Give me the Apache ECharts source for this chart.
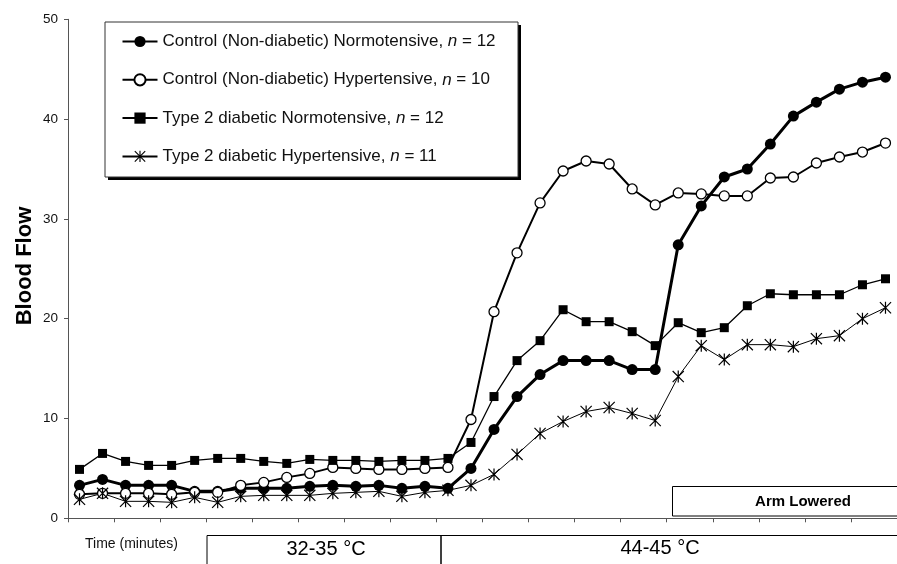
<!DOCTYPE html>
<html>
<head>
<meta charset="utf-8">
<script src="https://cdn.jsdelivr.net/npm/echarts@6/dist/echarts.min.js"></script>
<style>
html,body{margin:0;padding:0;background:#fff;}
#chart{width:897px;height:564px;}
</style>
</head>
<body>
<div id="chart"></div>
<script>
// ---- data ----
const timePoints = ['1','2','3','4','5','6','7','8','9','10','11','12','13','14','15','16','17','18',
                    '19','20','21','22','23','24','25','26','27','28','29','30','31','32','33','34','35','36'];

const seriesNames = [
  'Control (Non-diabetic) Normotensive',
  'Control (Non-diabetic) Hypertensive',
  'Type 2 diabetic Normotensive',
  'Type 2 diabetic Hypertensive'
];
const seriesN = [12, 10, 12, 11];

const ctrlNormo = [3.3, 3.9, 3.3, 3.3, 3.3, 2.7, 2.7, 3.0, 3.0, 3.0, 3.2, 3.3, 3.2, 3.3, 3.0, 3.2, 3.0, 5.0,
                   8.9, 12.2, 14.4, 15.8, 15.8, 15.8, 14.9, 14.9, 27.4, 31.3, 34.2, 35.0, 37.5, 40.3, 41.7, 43.0, 43.7, 44.2];
const ctrlHyper = [2.4, 2.5, 2.5, 2.5, 2.4, 2.6, 2.6, 3.3, 3.6, 4.1, 4.5, 5.1, 5.0, 4.9, 4.9, 5.0, 5.1, 9.9,
                   20.7, 26.6, 31.6, 34.8, 35.8, 35.5, 33.0, 31.4, 32.6, 32.5, 32.3, 32.3, 34.1, 34.2, 35.6, 36.2, 36.7, 37.6];
const t2Normo   = [4.9, 6.5, 5.7, 5.3, 5.3, 5.8, 6.0, 6.0, 5.7, 5.5, 5.9, 5.8, 5.8, 5.7, 5.8, 5.8, 6.0, 7.6,
                   12.2, 15.8, 17.8, 20.9, 19.7, 19.7, 18.7, 17.3, 19.6, 18.6, 19.1, 21.3, 22.5, 22.4, 22.4, 22.4, 23.4, 24.0];
const t2Hyper   = [1.9, 2.5, 1.7, 1.7, 1.6, 2.1, 1.6, 2.2, 2.3, 2.3, 2.3, 2.5, 2.6, 2.7, 2.2, 2.6, 2.8, 3.3,
                   4.4, 6.4, 8.5, 9.7, 10.7, 11.1, 10.5, 9.8, 14.2, 17.3, 15.9, 17.4, 17.4, 17.2, 18.0, 18.3, 20.0, 21.1];

const yTicks = { min: 0, max: 50, interval: 10 };
const yAxisTitle = 'Blood Flow';
const timeLabel = 'Time (minutes)';
const phaseLabels = ['32-35 °C', '44-45 °C'];
const armLabel = 'Arm Lowered';

// ---- chart ----
const FONT = "'Liberation Sans', Arial, sans-serif";
const starPath = 'path://M9,0 L11,0 L11,20 L9,20 Z M0,1.4 L1.4,0 L20,18.6 L18.6,20 Z M18.6,0 L20,1.4 L1.4,20 L0,18.6 Z';

const chart = echarts.init(document.getElementById('chart'), null, { renderer: 'canvas' });

const nameMap = {};
seriesNames.forEach((n, i) => nameMap[n] = seriesN[i]);

const option = {
  animation: false,
  backgroundColor: '#fff',
  grid: { left: 68, top: 19.3, bottom: 45.7, right: -4, containLabel: false },
  xAxis: {
    type: 'category',
    data: timePoints,
    boundaryGap: true,
    axisLine: { lineStyle: { color: '#555', width: 1 } },
    axisTick: { show: true, interval: 1, length: 4, lineStyle: { color: '#555' } },
    axisLabel: { show: false },
    splitLine: { show: false }
  },
  yAxis: {
    type: 'value',
    min: yTicks.min, max: yTicks.max, interval: yTicks.interval,
    axisLine: { show: true, lineStyle: { color: '#555', width: 1 } },
    axisTick: { show: true, length: 4, lineStyle: { color: '#555' } },
    axisLabel: { margin: 10, color: '#111', fontSize: 13.5, fontFamily: FONT },
    splitLine: { show: false }
  },
  legend: {
    orient: 'vertical',
    left: 121.5,
    top: 33,
    padding: 0,
    itemWidth: 35,
    itemHeight: 14,
    itemGap: 21.3,
    data: seriesNames,
    formatter: function (name) {
      return '{t|' + name + ', }{i|n}{t| = ' + nameMap[name] + '}';
    },
    textStyle: {
      color: '#111',
      fontFamily: FONT,
      fontSize: 17,
      lineHeight: 17,
      rich: {
        t: { fontFamily: FONT, fontSize: 17, color: '#111', lineHeight: 17 },
        i: { fontFamily: FONT, fontSize: 17, color: '#111', fontStyle: 'italic', lineHeight: 17 }
      }
    }
  },
  series: [
    {
      name: seriesNames[0], type: 'line', data: ctrlNormo,
      symbol: 'circle', symbolSize: 11,
      lineStyle: { color: '#000', width: 3 },
      itemStyle: { color: '#000' }
    },
    {
      name: seriesNames[1], type: 'line', data: ctrlHyper,
      symbol: 'circle', symbolSize: 10,
      lineStyle: { color: '#000', width: 2 },
      itemStyle: { color: '#fff', borderColor: '#000', borderWidth: 1.3 }
    },
    {
      name: seriesNames[2], type: 'line', data: t2Normo,
      symbol: 'rect', symbolSize: 9,
      lineStyle: { color: '#000', width: 1.3 },
      itemStyle: { color: '#000' }
    },
    {
      name: seriesNames[3], type: 'line', data: t2Hyper,
      symbol: starPath, symbolSize: 12, symbolKeepAspect: true,
      lineStyle: { color: '#000', width: 1 },
      itemStyle: { color: '#000' }
    }
  ],
  graphic: [
    // legend frame with hard shadow
    { type: 'rect', z: -1, shape: { x: 108, y: 25, width: 413, height: 155 }, style: { fill: '#000' } },
    { type: 'rect', z: 0, shape: { x: 105, y: 22, width: 413, height: 155 }, style: { fill: '#fff', stroke: '#333', lineWidth: 1 } },
    // y-axis title
    { type: 'text', x: 25, y: 266, rotation: Math.PI / 2,
      style: { text: yAxisTitle, font: 'bold 22px ' + FONT, fill: '#000', textAlign: 'center', textVerticalAlign: 'middle' } },
    // time label
    { type: 'text', x: 85, y: 544,
      style: { text: timeLabel, font: '14px ' + FONT, fill: '#111', textAlign: 'left', textVerticalAlign: 'middle' } },
    // phase boxes
    { type: 'rect', shape: { x: 207, y: 535.5, width: 234, height: 40 }, style: { fill: 'none', stroke: '#000', lineWidth: 1 } },
    { type: 'rect', shape: { x: 441, y: 535.5, width: 470, height: 40 }, style: { fill: 'none', stroke: '#000', lineWidth: 1 } },
    { type: 'text', x: 326, y: 549,
      style: { text: phaseLabels[0], font: '20px ' + FONT, fill: '#000', textAlign: 'center', textVerticalAlign: 'middle' } },
    { type: 'text', x: 660, y: 548,
      style: { text: phaseLabels[1], font: '20px ' + FONT, fill: '#000', textAlign: 'center', textVerticalAlign: 'middle' } },
    // arm lowered box
    { type: 'rect', shape: { x: 672.5, y: 486.5, width: 260, height: 29.5 }, style: { fill: '#fff', stroke: '#000', lineWidth: 1 } },
    { type: 'text', x: 803, y: 502,
      style: { text: armLabel, font: 'bold 15px ' + FONT, fill: '#000', textAlign: 'center', textVerticalAlign: 'middle' } }
  ]
};

chart.setOption(option);
</script>
</body>
</html>
